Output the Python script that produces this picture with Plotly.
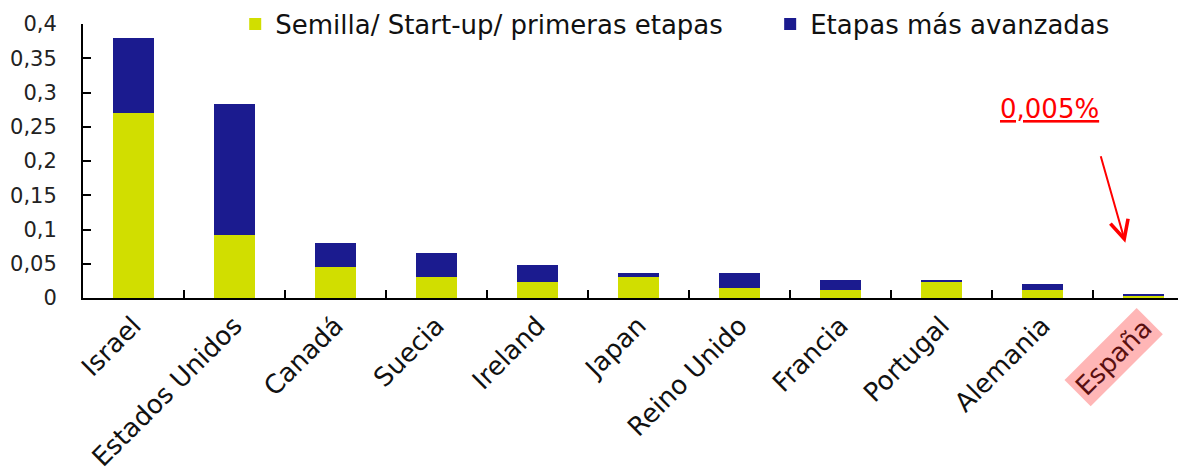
import plotly.graph_objects as go

categories = ["Israel", "Estados Unidos", "Canadá", "Suecia", "Ireland", "Japan",
              "Reino Unido", "Francia", "Portugal", "Alemania", "España"]
seed_startup = [0.270, 0.092, 0.045, 0.030, 0.024, 0.030, 0.015, 0.012, 0.024, 0.012, 0.003]
later_stage = [0.110, 0.191, 0.035, 0.036, 0.024, 0.006, 0.021, 0.015, 0.003, 0.009, 0.003]
series_names = ["Semilla/ Start-up/ primeras etapas", "Etapas más avanzadas"]
y_ticks = [0, 0.05, 0.1, 0.15, 0.2, 0.25, 0.3, 0.35, 0.4]
callout_text = "0,005%"
highlight = "España"

FONT = "DejaVu Sans"
YELLOW = "#d1de00"
BLUE = "#1b1b8f"

fig = go.Figure()
fig.add_trace(go.Bar(x=categories, y=seed_startup, name=series_names[0],
                     marker=dict(color=YELLOW, line=dict(width=0)), legend="legend"))
fig.add_trace(go.Bar(x=categories, y=later_stage, name=series_names[1],
                     marker=dict(color=BLUE, line=dict(width=0)), legend="legend2"))

ticktext = [("" if c == highlight else c) for c in categories]

legend_common = dict(orientation="h", xanchor="left", y=1.0, yanchor="middle",
                     font=dict(size=26, family=FONT, color="#111"),
                     bgcolor="rgba(0,0,0,0)")

# the page body adds an 8px offset, so margins are compensated
fig.update_layout(
    width=1186, height=473,
    margin=dict(l=75, r=8, t=16, b=182.6, pad=0, autoexpand=False),
    barmode="stack", bargap=0.594,
    separators=",.",
    plot_bgcolor="white", paper_bgcolor="white",
    font=dict(family=FONT, color="#111"),
    showlegend=True,
    legend=dict(x=0.138, **legend_common),
    legend2=dict(x=0.623, **legend_common),
    xaxis=dict(type="category", range=[-0.5, 10.42], tickmode="array",
               tickvals=categories, ticktext=ticktext, tickangle=-45,
               tickson="boundaries", ticks="inside", ticklen=8, tickwidth=2,
               tickcolor="black", showline=True, linecolor="black", linewidth=2,
               showgrid=False, zeroline=False, automargin=False,
               tickfont=dict(size=26, family=FONT, color="#111")),
    yaxis=dict(range=[0, 0.4], tickmode="array", tickvals=y_ticks,
               ticks="inside", ticklen=8, tickwidth=2, tickcolor="black",
               showline=True, linecolor="black", linewidth=2, showgrid=False,
               zeroline=False, ticklabelstandoff=20, automargin=False,
               tickfont=dict(size=21, family=FONT, color="#222")),
)

# highlighted label for España
fig.add_annotation(x=highlight, xref="x", y=0, yref="paper", text=highlight,
                   textangle=-45, showarrow=False, xanchor="right", yanchor="top",
                   xshift=20, yshift=-9, bgcolor="#ffb6b6", borderpad=3,
                   font=dict(size=26, family=FONT, color="#5a1010"))

# red callout text and arrow
fig.add_annotation(x=0.876, xref="paper", y=0.69, yref="paper",
                   xanchor="center", yanchor="middle",
                   text="<u>" + callout_text + "</u>", showarrow=False,
                   font=dict(size=26, family=FONT, color="#ff0000"))
fig.add_annotation(x=0.945, xref="paper", y=0.202, yref="paper", text="",
                   showarrow=True, ax=-25, ay=-88, arrowhead=5, arrowsize=1.8,
                   arrowwidth=2, arrowcolor="#ff0000")

fig.write_html("out.html")
